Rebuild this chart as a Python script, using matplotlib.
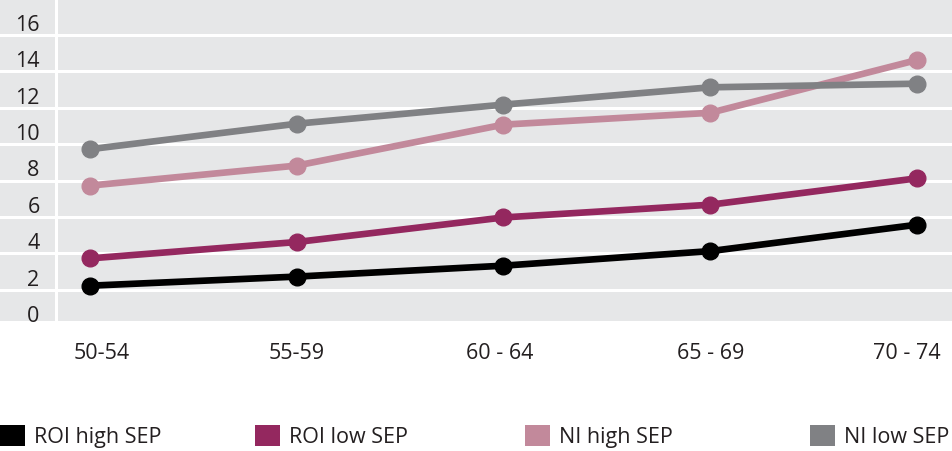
import matplotlib
matplotlib.use("Agg")
import matplotlib.pyplot as plt
from matplotlib.patches import Patch
import matplotlib.transforms as mtransforms

plt.rcParams['font.family'] = ['Liberation Sans Narrow', 'Open Sans', 'DejaVu Sans']

categories = ["50-54", "55-59", "60 - 64", "65 - 69", "70 - 74"]
series_names = ["ROI high SEP", "ROI low SEP", "NI high SEP", "NI low SEP"]
roi_high = [1.5, 2.0, 2.6, 3.4, 4.85]
roi_low = [3.0, 3.9, 5.25, 5.95, 7.4]
ni_high = [7.0, 8.1, 10.35, 11.0, 13.9]
ni_low = [9.0, 10.4, 11.45, 12.4, 12.6]
y_ticks = [0, 2, 4, 6, 8, 10, 12, 14, 16]

colors = ["#000000", "#94285f", "#c2899b", "#808184"]
bg = "#e6e7e8"

W, H = 953, 452
fig = plt.figure(figsize=(W / 100, H / 100), dpi=100)
ax = fig.add_axes([0, 1 - 322 / H, 952 / W, 322 / H])
ax.set_facecolor(bg)

xs = list(range(len(categories)))
for vals, c in zip([roi_high, roi_low, ni_high, ni_low], colors):
    ax.plot(xs, vals, color=c, lw=4.8, marker='o', ms=12, mec=c, mfc=c,
            solid_capstyle='round', zorder=3)

# axis ranges (pixel-matched)
ax.set_xlim(-90 / 206.75, 4 + 35 / 206.75)
ax.set_ylim(-8 / 18.2, 314 / 18.2)

# gridlines (offset from label positions as in reference)
for yt in y_ticks[:-1]:
    ax.axhline(yt + 1.27, color='white', lw=2.2, zorder=1)
ax.plot([56 / 952, 56 / 952], [0, 1], transform=ax.transAxes, color='white',
        lw=2.2, zorder=1)

ax.set_yticks(y_ticks)
ax.set_yticklabels([str(v) for v in y_ticks])
ax.tick_params(axis='y', length=0, pad=-28.5, labelsize=15.5, labelcolor='#231f20')
for lab in ax.get_yticklabels():
    lab.set_horizontalalignment('right')

ax.set_xticks(xs)
ax.set_xticklabels(categories)
ax.tick_params(axis='x', length=0, pad=15, labelsize=15.5, labelcolor='#231f20')
offsets = [12, 0, -4, 0, -10]
for lab, dx in zip(ax.get_xticklabels(), offsets):
    lab.set_transform(lab.get_transform() + mtransforms.ScaledTranslation(dx / 100, 0, fig.dpi_scale_trans))

for s in ax.spines.values():
    s.set_visible(False)

# legend entries
legend_x = [0, 255, 525, 810]
for name, c, lx in zip(series_names, colors, legend_x):
    leg = fig.legend(handles=[Patch(facecolor=c, edgecolor='none', label=name)],
                     loc='center left', bbox_to_anchor=(lx / W, 1 - 437 / H),
                     frameon=False, fontsize=15.5, handlelength=1.15, handleheight=1.15,
                     handletextpad=0.45, borderpad=0, borderaxespad=0)
    for t in leg.get_texts():
        t.set_color('#231f20')

fig.savefig("out.png", dpi=100, facecolor='white')
